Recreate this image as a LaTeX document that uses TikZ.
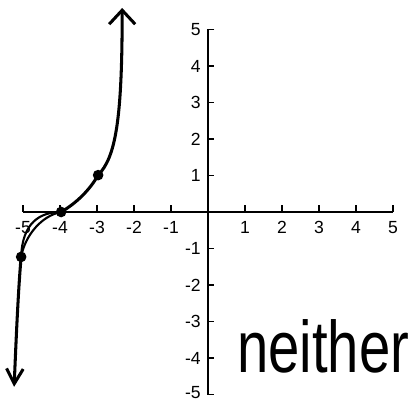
\documentclass[tikz,border=0pt]{standalone}
\usepackage{graphicx}
\usepackage{fontspec}
\setmainfont{Liberation Sans}
\usetikzlibrary{arrows.meta}

\begin{document}
\begin{tikzpicture}[x=1.11cm,y=1.095cm,
  ax/.style={line width=1.6pt},
  tk/.style={font=\fontsize{15}{15}\selectfont,inner sep=0pt},
  crv/.style={line width=2.6pt,line cap=round,line join=round},
  thn/.style={line width=1.8pt,line cap=round},
  pt/.style={circle,fill=black,inner sep=0pt,minimum size=0.32cm}]
\useasboundingbox (-5.622,-5.178) rectangle (5.432,5.808);
% axes
\draw[ax] (-5,0) -- (5,0);
\draw[ax] (0.17,5) -- (0,5) -- (0,-5) -- (0.17,-5);
\foreach \i in {-5,...,-1,1,2,...,5} {
  \draw[ax] (\i,0) -- (\i,0.19);
  \node[tk,anchor=north] at (\i,-0.25) {\i};
}
\foreach \i in {-4,...,-1,1,2,...,4}
  \draw[ax] (0,\i) -- (0.17,\i);
\foreach \i in {-4,...,-1,1,2,...,5}
  \node[tk,anchor=east] at (-0.19,\i) {\i};
\node[tk,anchor=east] at (-0.19,-4.96) {-5};
% points on the graph
\node[pt] (p1) at (-5.05,-1.23) {};
\node[pt] (p2) at (-3.97,0) {};
\node[pt] (p3) at (-2.97,1.01) {};
\coordinate (bot) at (-5.24,-4.79);
\coordinate (top) at (-2.32,5.59);
% the curve
\draw[crv,{Straight Barb[length=0.45cm,width=0.5cm]}-] (bot) .. controls (-5.18,-3.3) and (-5.12,-2.0) .. (p1.center);
\draw[thn] (p1.center) .. controls (-5.02,-0.3) and (-4.55,0) .. (p2.center);
\draw[thn] (p1.center) .. controls (-4.95,-0.65) and (-4.5,-0.1) .. (p2.center);
\draw[crv,-{Straight Barb[length=0.42cm,width=0.78cm]}] (p2.center) .. controls (-3.55,0.25) and (-3.2,0.6) .. (p3.center)
  .. controls (-2.5,1.5) and (-2.32,2.5) .. (top);
\node[anchor=base west,inner sep=0pt,font=\fontsize{48}{48}\selectfont] (ans) at (0.78,-4.41) {\scalebox{1}[1.3]{neither}};
\end{tikzpicture}
\end{document}
